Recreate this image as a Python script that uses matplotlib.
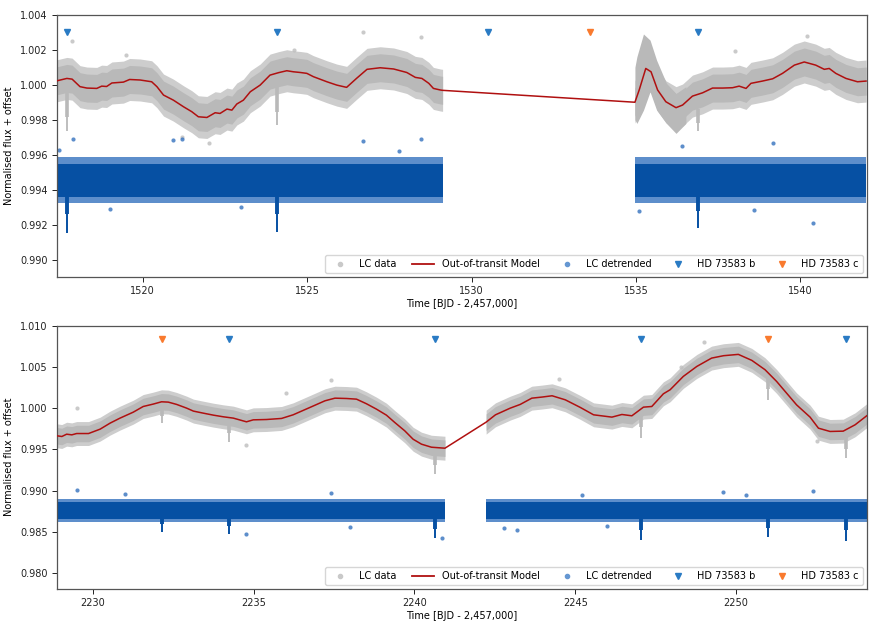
import matplotlib
matplotlib.use("Agg")
import matplotlib.pyplot as plt
from matplotlib.lines import Line2D

# ---------------- data ----------------
# Sector 1 (top panel)
top_model_t = [1517.40, 1517.69, 1517.85, 1518.09, 1518.30, 1518.60, 1518.75, 1518.90, 1519.06,
               1519.41, 1519.60, 1519.92, 1520.27, 1520.43, 1520.63, 1520.93, 1521.24, 1521.49,
               1521.69, 1521.95, 1522.20, 1522.35, 1522.56, 1522.71, 1522.86, 1523.06, 1523.27,
               1523.57, 1523.87, 1524.13, 1524.38, 1524.58, 1524.79, 1524.99, 1525.19, 1525.60,
               1525.90, 1526.20, 1526.50, 1526.82, 1527.22, 1527.63, 1528.03, 1528.29, 1528.49,
               1528.70, 1528.84, 1529.05, 1529.12,
               1534.97, 1535.10, 1535.30, 1535.46, 1535.66, 1535.91, 1536.22, 1536.42, 1536.72,
               1537.03, 1537.33, 1537.64, 1537.94, 1538.14, 1538.35, 1538.50, 1538.85, 1539.16,
               1539.46, 1539.82, 1540.12, 1540.47, 1540.73, 1540.88, 1541.08, 1541.39, 1541.74,
               1542.00]
top_model_f = [1.00023, 1.00036, 1.00032, 0.99989, 0.99981, 0.99979, 0.99992, 0.99990, 1.00010,
               1.00015, 1.00030, 1.00027, 1.00017, 0.99989, 0.99941, 0.99912, 0.99874, 0.99846,
               0.99817, 0.99813, 0.99840, 0.99836, 0.99861, 0.99855, 0.99890, 0.99912, 0.99960,
               0.99998, 1.00055, 1.00069, 1.00080, 1.00074, 1.00070, 1.00065, 1.00046, 1.00017,
               0.99998, 0.99985, 1.00036, 1.00088, 1.00097, 1.00090, 1.00070, 1.00042, 1.00036,
               1.00008, 0.99979, 0.99970, 0.99968,
               0.99900, 0.99970, 1.00093, 1.00074, 0.99970, 0.99903, 0.99869, 0.99884, 0.99935,
               0.99954, 0.99981, 0.99981, 0.99983, 0.99992, 0.99979, 1.00008, 1.00021, 1.00034,
               1.00065, 1.00112, 1.00130, 1.00112, 1.00088, 1.00093, 1.00065, 1.00036, 1.00017,
               1.00021]
top_segments = [(1517.40, 1529.12), (1534.97, 1542.00)]
top_gray_hw = [0.00080, 0.00120]      # core / outer half-widths of LC data cloud
# extra-wide part of the LC data cloud just after the gap
top_wide_t = [1534.97, 1535.03, 1535.23, 1535.43, 1535.63, 1535.93, 1536.22, 1536.52]
top_wide_lo = [0.99800, 0.99779, 0.99855, 0.99960, 0.99855, 0.99779, 0.99722, 0.99779]
top_wide_hi = [1.00100, 1.00160, 1.00290, 1.00255, 1.00140, 1.00008, 0.99950, 0.99989]
top_det_level = 0.99455
top_det_hw = [0.00095, 0.00130]
top_b_times = [1517.69, 1524.09, 1530.50, 1536.90]
top_c_times = [1533.61]
top_gray_dip_top = [0.99960, 0.99985, 0.99860]
top_gray_dip_low = [0.99737, 0.99770, 0.99735]
top_det_dip_low = [0.99155, 0.99160, 0.99180]
top_gray_out_t = [1517.85, 1526.71, 1528.45, 1538.00, 1522.00, 1521.20, 1519.50, 1524.60, 1540.20]
top_gray_out_f = [1.00250, 1.00299, 1.00274, 1.00195, 0.99665, 0.99700, 1.00170, 1.00200, 1.00280]
top_det_out_t = [1517.45, 1517.89, 1520.93, 1521.20, 1526.71, 1528.45, 1539.16, 1535.10, 1540.40,
                 1536.40, 1519.00, 1523.00, 1527.80, 1538.60]
top_det_out_f = [0.99630, 0.99688, 0.99684, 0.99690, 0.99680, 0.99690, 0.99665, 0.99280, 0.99210,
                 0.99650, 0.99290, 0.99300, 0.99620, 0.99285]

# Sector 7 (bottom panel)
bot_model_t = [2228.90, 2229.04, 2229.19, 2229.35, 2229.50, 2229.87, 2230.23, 2230.54, 2230.85,
               2231.26, 2231.57, 2231.88, 2232.14, 2232.35, 2232.61, 2232.92, 2233.13, 2233.44,
               2233.75, 2234.06, 2234.37, 2234.78, 2234.99, 2235.40, 2235.87, 2236.23, 2236.75,
               2237.22, 2237.53, 2237.89, 2238.20, 2238.51, 2238.82, 2239.13, 2239.39, 2239.70,
               2239.96, 2240.22, 2240.53, 2240.95,
               2242.23, 2242.52, 2242.98, 2243.29, 2243.65, 2243.96, 2244.28, 2244.69, 2245.16,
               2245.57, 2246.14, 2246.45, 2246.76, 2247.12, 2247.38, 2247.74, 2247.95, 2248.36,
               2248.78, 2249.24, 2249.61, 2250.07, 2250.49, 2250.90, 2251.26, 2251.57, 2251.88,
               2252.30, 2252.56, 2252.92, 2253.33, 2253.70, 2254.06]
bot_model_f = [0.99664, 0.99656, 0.99684, 0.99676, 0.99692, 0.99692, 0.99745, 0.99818, 0.99879,
               0.99951, 1.00020, 1.00049, 1.00077, 1.00073, 1.00045, 1.00000, 0.99964, 0.99939,
               0.99915, 0.99895, 0.99879, 0.99834, 0.99858, 0.99862, 0.99875, 0.99919, 1.00008,
               1.00089, 1.00121, 1.00117, 1.00109, 1.00053, 0.99988, 0.99915, 0.99826, 0.99725,
               0.99623, 0.99563, 0.99526, 0.99514,
               0.99830, 0.99919, 1.00000, 1.00045, 1.00121, 1.00134, 1.00150, 1.00101, 1.00008,
               0.99919, 0.99891, 0.99923, 0.99907, 1.00012, 1.00020, 1.00174, 1.00223, 1.00385,
               1.00506, 1.00607, 1.00636, 1.00652, 1.00579, 1.00466, 1.00324, 1.00182, 1.00040,
               0.99891, 0.99757, 0.99717, 0.99721, 0.99798, 0.99907]
bot_segments = [(2228.90, 2240.95), (2242.23, 2254.06)]
bot_gray_hw = [0.00100, 0.00145]
bot_det_level = 0.98758
bot_det_hw = [0.00100, 0.00140]
bot_b_times = [2234.25, 2240.64, 2247.03, 2253.42]
bot_c_times = [2232.15, 2250.99]
bot_gray_dip_top = [1.00077, 0.99879, 0.99520, 1.00012, 1.00466, 0.99721]
bot_gray_dip_low = [0.99818, 0.99595, 0.99200, 0.99636, 1.00101, 0.99393]
bot_det_dip_low = [0.98502, 0.98474, 0.98421, 0.98401, 0.98441, 0.98393]
bot_gray_out_t = [2229.50, 2237.42, 2234.78, 2236.00, 2248.30, 2249.00, 2244.50, 2252.50]
bot_gray_out_f = [1.00000, 1.00336, 0.99555, 1.00180, 1.00500, 1.00800, 1.00350, 0.99600]
bot_det_out_t = [2229.50, 2237.42, 2234.78, 2231.00, 2243.20, 2249.60, 2252.40, 2245.20, 2242.80,
                 2240.85, 2238.00, 2246.00, 2250.30]
bot_det_out_f = [0.99008, 0.98976, 0.98470, 0.98960, 0.98520, 0.98980, 0.99000, 0.98950, 0.98550,
                 0.98430, 0.98560, 0.98570, 0.98950]

top_xlim = (1517.40, 1542.02)
top_ylim = (0.98903, 1.00400)
top_yticks = [0.990, 0.992, 0.994, 0.996, 0.998, 1.000, 1.002, 1.004]
top_xticks = [1520, 1525, 1530, 1535, 1540]
top_marker_y = 1.0030
bot_xlim = (2228.90, 2254.06)
bot_ylim = (0.97810, 1.01000)
bot_yticks = [0.980, 0.985, 0.990, 0.995, 1.000, 1.005, 1.010]
bot_xticks = [2230, 2235, 2240, 2245, 2250]
bot_marker_y = 1.0084

legend_labels = ["LC data", "Out-of-transit Model", "LC detrended", "HD 73583 b", "HD 73583 c"]

# ---------------- styling ----------------
GRAY_CORE = "#b9b9b9"
GRAY_OUT = "#cdcdcd"
BLUE_CORE = "#0650a3"
BLUE_OUT = "#3572bf"
MODEL_C = "#b01010"
B_C = "#2a7bc4"
C_C = "#f97a2e"

plt.rcParams["font.family"] = "DejaVu Sans"
plt.rcParams["font.size"] = 7

fig = plt.figure(figsize=(8.86, 6.29), dpi=100)
ax1 = fig.add_axes([0.0647, 0.5600, 0.9135, 0.4166])
ax2 = fig.add_axes([0.0647, 0.0641, 0.9135, 0.4181])


def draw_panel(ax, mt, mf, segs, ghw, dlev, dhw, bt, ct, gdt, gdl, ddl,
               got, gof, dot_, dof, xlim, ylim, yticks, xticks, my, wide=None):
    for (s0, s1) in segs:
        idx = [i for i, t in enumerate(mt) if s0 <= t <= s1]
        ts = [mt[i] for i in idx]
        fs = [mf[i] for i in idx]
        # LC data cloud
        ax.fill_between(ts, [f - ghw[1] for f in fs], [f + ghw[1] for f in fs],
                        color=GRAY_OUT, lw=0, zorder=1)
        ax.fill_between(ts, [f - ghw[0] for f in fs], [f + ghw[0] for f in fs],
                        color=GRAY_CORE, lw=0, zorder=1.1)
        # detrended cloud
        ax.fill_between([s0, s1], [dlev - dhw[1]] * 2, [dlev + dhw[1]] * 2,
                        color=BLUE_OUT, alpha=0.8, lw=0, zorder=1)
        ax.fill_between([s0, s1], [dlev - dhw[0]] * 2, [dlev + dhw[0]] * 2,
                        color=BLUE_CORE, lw=0, zorder=1.1)
    if wide is not None:
        wt, wlo, whi = wide
        ax.fill_between(wt, wlo, whi, color=GRAY_CORE, lw=0, zorder=1.05)
    transits = sorted(bt + ct)
    inside = [t for t in transits if any(s0 <= t <= s1 for (s0, s1) in segs)]
    ax.vlines(inside, gdl, gdt, color=GRAY_CORE, lw=1.3, zorder=1.2)
    ax.vlines(inside, [lo + 0.35 * (tp - lo) for lo, tp in zip(gdl, gdt)], gdt,
              color=GRAY_CORE, lw=2.6, zorder=1.2)
    ax.vlines(inside, ddl, [dlev] * len(inside), color=BLUE_CORE, lw=1.4, zorder=1.2)
    ax.vlines(inside, [lo + 0.35 * (dlev - lo) for lo in ddl], [dlev] * len(inside),
              color=BLUE_CORE, lw=2.8, zorder=1.2)
    ax.scatter(got, gof, s=9, color="#bdbdbd", alpha=0.8, lw=0, zorder=1.3)
    ax.scatter(dot_, dof, s=9, color=BLUE_OUT, alpha=0.8, lw=0, zorder=1.3)
    ax.plot(mt, mf, color=MODEL_C, lw=1.1, zorder=3)
    ax.plot(bt, [my] * len(bt), ls="none", marker="v", ms=5, color=B_C, zorder=4)
    ax.plot(ct, [my] * len(ct), ls="none", marker="v", ms=5, color=C_C, zorder=4)
    ax.set_xlim(*xlim)
    ax.set_ylim(*ylim)
    ax.set_yticks(yticks)
    ax.set_yticklabels(["{:.3f}".format(v) for v in yticks])
    ax.set_xticks(xticks)
    ax.set_xlabel("Time [BJD - 2,457,000]", fontsize=7, labelpad=2)
    ax.set_ylabel("Normalised flux + offset", fontsize=7, labelpad=4)
    ax.tick_params(labelsize=7, length=3.5, width=0.7, colors="#222222")
    for sp in ax.spines.values():
        sp.set_color("#555555")
        sp.set_linewidth(0.9)
    handles = [
        Line2D([], [], ls="none", marker="o", ms=3, color="#c9c9c9"),
        Line2D([], [], color=MODEL_C, lw=1.3),
        Line2D([], [], ls="none", marker="o", ms=3, color="#6597d2"),
        Line2D([], [], ls="none", marker="v", ms=5, color=B_C),
        Line2D([], [], ls="none", marker="v", ms=5, color=C_C),
    ]
    ax.legend(handles, legend_labels, loc="lower right", ncol=5, fontsize=7,
              frameon=True, borderaxespad=0.4, handlelength=2.2, columnspacing=1.6,
              handletextpad=0.9, borderpad=0.4)


draw_panel(ax1, top_model_t, top_model_f, top_segments, top_gray_hw, top_det_level, top_det_hw,
           top_b_times, top_c_times, top_gray_dip_top, top_gray_dip_low, top_det_dip_low,
           top_gray_out_t, top_gray_out_f, top_det_out_t, top_det_out_f,
           top_xlim, top_ylim, top_yticks, top_xticks, top_marker_y,
           wide=(top_wide_t, top_wide_lo, top_wide_hi))
draw_panel(ax2, bot_model_t, bot_model_f, bot_segments, bot_gray_hw, bot_det_level, bot_det_hw,
           bot_b_times, bot_c_times, bot_gray_dip_top, bot_gray_dip_low, bot_det_dip_low,
           bot_gray_out_t, bot_gray_out_f, bot_det_out_t, bot_det_out_f,
           bot_xlim, bot_ylim, bot_yticks, bot_xticks, bot_marker_y)

fig.savefig("out.png", dpi=100)
